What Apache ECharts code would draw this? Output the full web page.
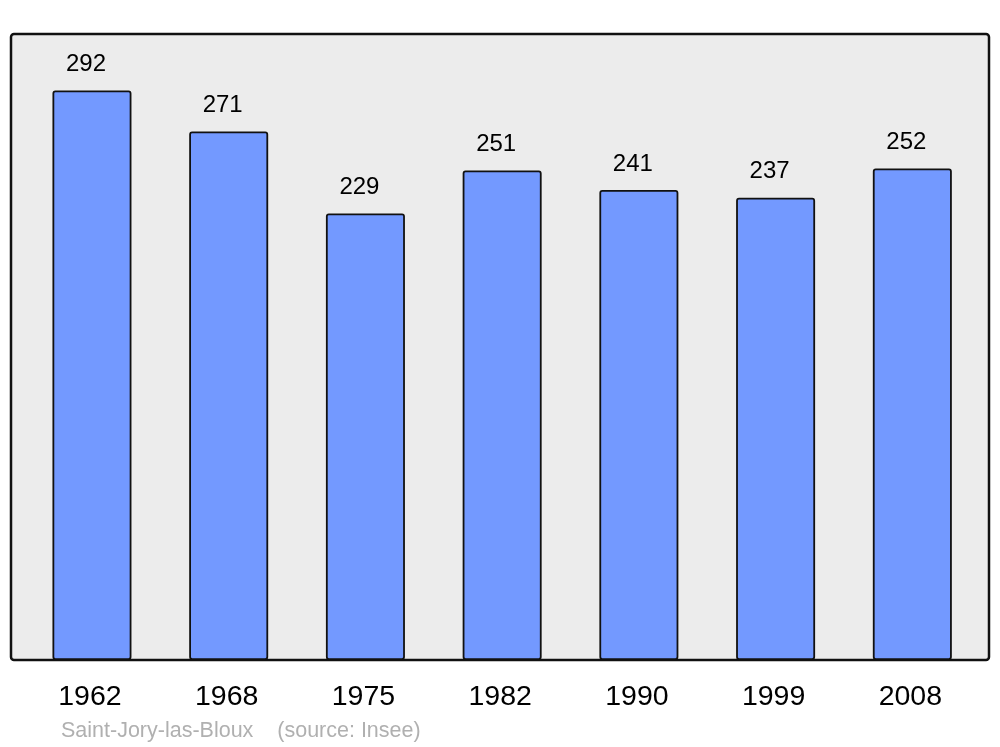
<!DOCTYPE html>
<html>
<head>
<meta charset="utf-8">
<script src="https://cdn.jsdelivr.net/npm/echarts@6/dist/echarts.min.js"></script>
<style>
  html, body { margin: 0; padding: 0; background: #fff; }
  #chart { width: 1000px; height: 747px; }
</style>
</head>
<body>
<div id="chart"></div>
<script>
const years = ['1962', '1968', '1975', '1982', '1990', '1999', '2008'];
const population = [292, 271, 229, 251, 241, 237, 252];
const sourceText = 'Saint-Jory-las-Bloux    (source: Insee)';

const chart = echarts.init(document.getElementById('chart'));

chart.setOption({
  animation: false,
  backgroundColor: '#ffffff',
  grid: {
    left: 23.6,
    right: 19.3,
    top: 34,
    bottom: 87,
  },
  graphic: [
    {
      type: 'rect',
      z: -10,
      shape: { x: 11, y: 34, width: 978, height: 626, r: 3 },
      style: { fill: '#ececec', stroke: '#111111', lineWidth: 2.5 },
    },
    {
      type: 'text',
      left: 61,
      top: 720,
      style: {
        text: sourceText,
        fill: '#b0b0b0',
        font: '21.5px "Liberation Sans", Arial, sans-serif',
      },
    },
  ],
  xAxis: {
    type: 'category',
    data: years,
    axisLine: { show: false },
    axisTick: { show: false },
    axisLabel: {
      color: '#000',
      fontSize: 28.5,
      fontFamily: '"Liberation Sans", Arial, sans-serif',
      margin: 23,
      padding: [0, 4, 0, 0],
    },
  },
  yAxis: {
    type: 'value',
    min: 0,
    max: 321,
    show: false,
    splitLine: { show: false },
  },
  series: [
    {
      type: 'bar',
      data: population,
      barWidth: 79,
      itemStyle: {
        color: '#7399ff',
        borderColor: '#111111',
        borderWidth: 1.8,
        borderRadius: 2,
      },
      label: {
        show: true,
        position: 'top',
        distance: 14,
        offset: [-6, 0],
        color: '#000',
        fontSize: 24,
        fontFamily: '"Liberation Sans", Arial, sans-serif',
      },
    },
  ],
});
</script>
</body>
</html>
